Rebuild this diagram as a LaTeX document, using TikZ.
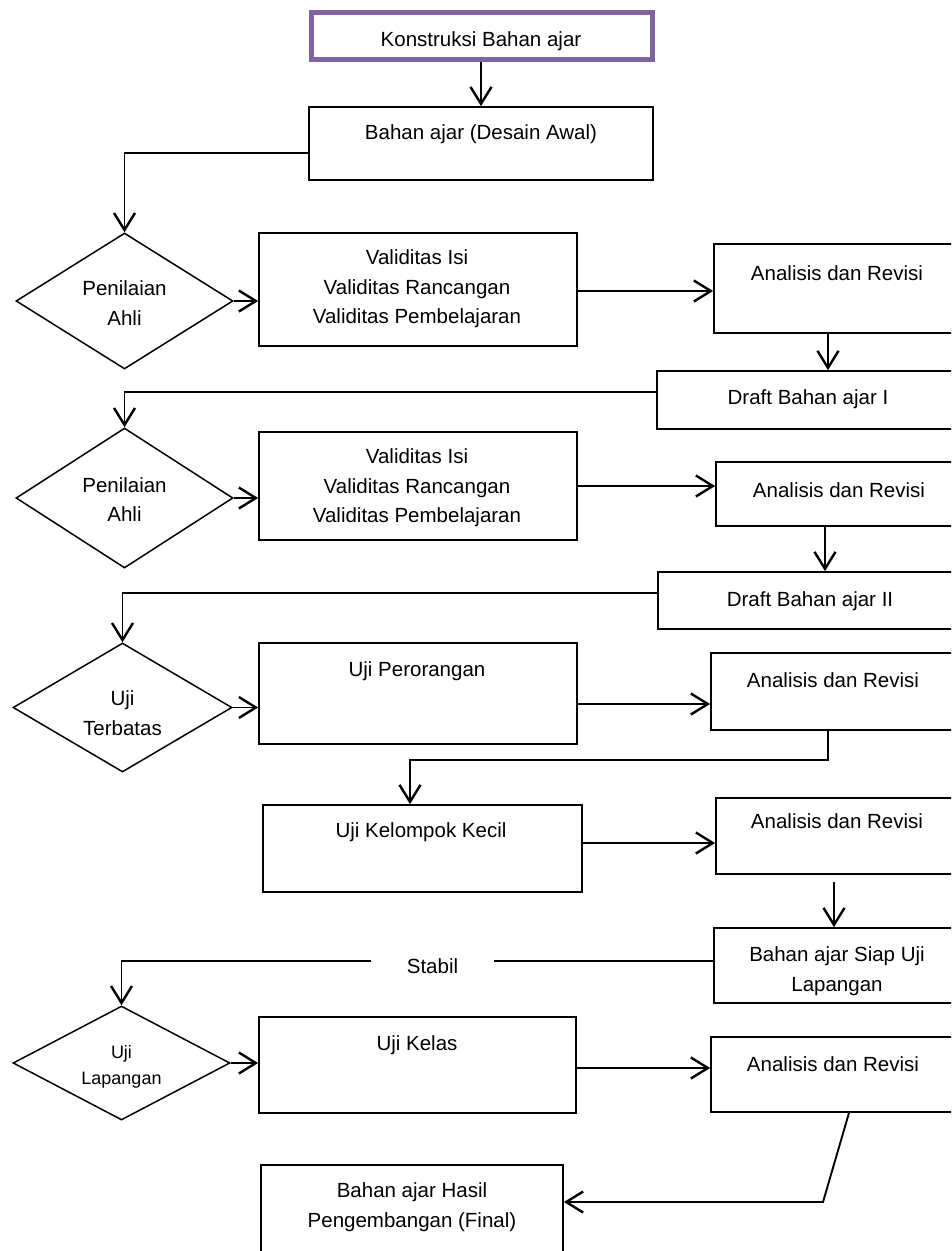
\documentclass[tikz,border=0pt]{standalone}
\usepackage{fontspec}
\setmainfont{Liberation Sans}
\usetikzlibrary{arrows.meta,shapes.geometric,fit,calc}
\definecolor{kpurple}{RGB}{128,100,162}
\begin{document}
\begin{tikzpicture}[x=1pt,y=-1pt,
  box/.style={draw=black,line width=1.7pt,inner sep=0pt},
  kbox/.style={draw=kpurple,line width=5pt,inner sep=0pt},
  dia/.style={draw=black,line width=1.5pt,diamond,inner sep=0pt},
  txt/.style={font=\fontsize{20.5}{29.5}\selectfont,align=center,inner sep=0pt,text=black},
  smalltxt/.style={font=\fontsize{18}{26}\selectfont,align=center,inner sep=0pt,text=black},
  conn/.style={draw=black,line width=1.9pt},
  arr/.style={conn,-{Straight Barb[length=17pt,width=21pt,line width=2.4pt]}}
]
\useasboundingbox (0,0) rectangle (951,1251);
\clip (0,0) rectangle (951,1251);
\fill[white] (0,0) rectangle (951,1251);

% helper coordinates
\coordinate (x481) at (481,0);
\coordinate (x828) at (828,0);
\coordinate (x825) at (825,0);
\coordinate (x410) at (410,0);
\coordinate (x834) at (834,0);
\coordinate (x849) at (849,0);
\coordinate (x823) at (823,0);
\coordinate (y291) at (0,291);
\coordinate (y704) at (0,704);
\coordinate (y760) at (0,760);
\coordinate (y843) at (0,843);
\coordinate (y961) at (0,961);
\coordinate (y1068) at (0,1068);
\coordinate (y1202) at (0,1202);

% boxes
\node[kbox,fit={(311.5,12.5) (652.5,59.5)}] (K) {};
\node[box,fit={(309,107) (653,180)}] (B) {};
\node[box,fit={(259,233) (577,346)}] (V1) {};
\node[box,fit={(714,244) (965,333)}] (A1) {};
\node[box,fit={(657,371) (965,429)}] (DI) {};
\node[box,fit={(259,432) (577,540)}] (V2) {};
\node[box,fit={(716,462) (965,526)}] (A2) {};
\node[box,fit={(658,572) (965,629)}] (DII) {};
\node[box,fit={(259,643) (577,744)}] (UP) {};
\node[box,fit={(711,653) (965,730)}] (A3) {};
\node[box,fit={(263,805) (582,892)}] (UK) {};
\node[box,fit={(716,798) (965,874)}] (A4) {};
\node[box,fit={(714,928) (965,1003)}] (BS) {};
\node[box,fit={(259,1017) (576,1113)}] (UKel) {};
\node[box,fit={(711,1037) (965,1112)}] (A5) {};
\node[box,fit={(261,1165) (563,1265)}] (F) {};

% diamonds
\node[dia,minimum width=217pt,minimum height=136pt] (D1) at (124.5,301) {};
\node[dia,minimum width=217pt,minimum height=140pt] (D2) at (124.5,498) {};
\node[dia,minimum width=219pt,minimum height=129pt] (D3) at (122.5,707.5) {};
\node[dia,minimum width=217pt,minimum height=114pt] (D4) at (121.5,1063) {};

% texts
\node[txt] (tK) at (481,41) {Konstruksi Bahan ajar};
\node[txt] (tB) at (481,134) {Bahan ajar (Desain Awal)};
\node[txt] (tD1) at (124.5,303) {Penilaian\\Ahli};
\node[txt] (tV1) at (417,289) {Validitas Isi\\Validitas Rancangan\\Validitas Pembelajaran};
\node[txt] (tA1) at (837,273) {Analisis dan Revisi};
\node[txt] (tDI) at (808,399) {Draft Bahan ajar I};
\node[txt] (tD2) at (124.5,499.5) {Penilaian\\Ahli};
\node[txt] (tV2) at (417,488) {Validitas Isi\\Validitas Rancangan\\Validitas Pembelajaran};
\node[txt] (tA2) at (839,490) {Analisis dan Revisi};
\node[txt] (tDII) at (810,601) {Draft Bahan ajar II};
\node[txt] (tD3) at (122.5,713) {Uji\\Terbatas};
\node[txt] (tUP) at (417,671) {Uji Perorangan};
\node[txt] (tA3) at (833,680) {Analisis dan Revisi};
\node[txt] (tUK) at (421,832) {Uji Kelompok Kecil};
\node[txt] (tA4) at (837,821) {Analisis dan Revisi};
\node[txt] (tBS) at (837,971) {Bahan ajar Siap Uji\\Lapangan};
\node[smalltxt] (tD4) at (121.5,1067) {Uji\\Lapangan};
\node[txt] (tUKel) at (417,1045) {Uji Kelas};
\node[txt] (tA5) at (833,1064) {Analisis dan Revisi};
\node[txt] (tF) at (412,1207) {Bahan ajar Hasil\\Pengembangan (Final)};
\node[txt,minimum width=123pt] (St) at (432.5,966) {Stabil};

% connectors
\draw[arr] (K.south -| x481) -- (B.north -| x481);
\draw[arr] ([yshift=-9.5pt]B.west) -| (D1.north);
\draw[arr] (D1.east) -- (D1.east -| V1.west);
\draw[arr] (V1.east |- y291) -- (A1.west |- y291);
\draw[arr] (A1.south -| x828) -- (DI.north -| x828);
\draw[arr] ([yshift=8pt]DI.west) -| (D2.north);
\draw[arr] (D2.east) -- (D2.east -| V2.west);
\draw[arr] (V2.east) -- (V2.east -| A2.west);
\draw[arr] (A2.south -| x825) -- (DII.north -| x825);
\draw[arr] ([yshift=7.5pt]DII.west) -| (D3.north);
\draw[arr] (D3.east) -- (D3.east -| UP.west);
\draw[arr] (UP.east |- y704) -- (A3.west |- y704);
\draw[arr] (A3.south -| x828) -- (x828 |- y760) -- (x410 |- y760) -- (UK.north -| x410);
\draw[arr] (UK.east |- y843) -- (A4.west |- y843);
\draw[arr,shorten <=7pt] (A4.south -| x834) -- (BS.north -| x834);
\draw[conn] (BS.west |- y961) -- (St.east |- y961);
\draw[arr] (St.west |- y961) -| (D4.north);
\draw[arr] (D4.east) -- (D4.east -| UKel.west);
\draw[arr] (UKel.east |- y1068) -- (A5.west |- y1068);
\draw[arr] (A5.south -| x849) -- (x823 |- y1202) -- (F.east |- y1202);
\end{tikzpicture}
\end{document}
